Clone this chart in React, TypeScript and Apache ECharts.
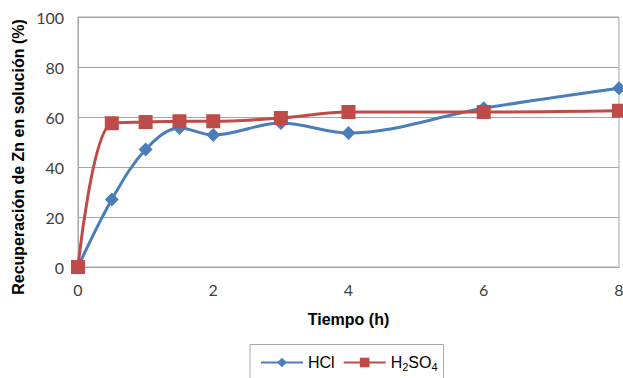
import React, { useEffect, useRef } from "react";
import * as echarts from "echarts";

const timeH = [0, 0.5, 1, 1.5, 2, 3, 4, 6, 8];
const hclValues = [0, 27, 47, 55.6, 52.8, 57.6, 53.6, 63.5, 71.5];
const h2so4Values = [0, 57.5, 58, 58.3, 58.3, 59.6, 62, 62, 62.5];
const seriesNames = ["HCl", "H2SO4"];
const xTitle = "Tiempo (h)";
const yTitle = "Recuperación de Zn en solución (%)";

export default function App() {
  const ref = useRef<HTMLDivElement>(null);
  useEffect(() => {
    if (!ref.current) return;
    const chart = echarts.init(ref.current, undefined, { renderer: "svg" });
    const gray = "#a6a6a6";
    chart.setOption({
      animation: false,
      backgroundColor: "#ffffff",
      grid: {
        left: 78,
        right: 4,
        top: 17,
        bottom: 111,
        show: true,
        borderColor: gray,
        borderWidth: 1,
        outerBoundsMode: "none",
        containLabel: false,
      },
      xAxis: {
        type: "value",
        min: 0,
        max: 8,
        interval: 2,
        name: xTitle,
        nameLocation: "middle",
        nameGap: 44,
        nameTextStyle: { fontFamily: "Liberation Sans", fontWeight: "bold", fontSize: 16, color: "#000" },
        axisLine: { show: true, lineStyle: { color: gray } },
        axisTick: { show: false },
        splitLine: { show: false },
        axisLabel: { fontFamily: "Lato", fontSize: 16, color: "#404040", margin: 14 },
      },
      yAxis: {
        type: "value",
        min: 0,
        max: 100,
        interval: 20,
        axisLine: { show: true, lineStyle: { color: gray } },
        axisTick: { show: false },
        splitLine: { show: true, lineStyle: { color: gray } },
        axisLabel: { fontFamily: "Lato", fontSize: 16, color: "#404040", margin: 14 },
      },
      graphic: [
        {
          type: "text",
          x: 18,
          y: 157,
          rotation: Math.PI / 2,
          style: {
            text: yTitle,
            fontFamily: "Liberation Sans",
            fontWeight: "bold",
            fontSize: 16,
            fill: "#000",
            align: "center",
            verticalAlign: "middle",
          },
        },
      ],
      legend: {
        bottom: -8,
        left: 250,
        borderColor: gray,
        borderWidth: 1,
        padding: [10, 6, 14, 10],
        itemWidth: 42,
        itemHeight: 12,
        itemGap: 8,
        data: seriesNames,
        formatter: (name: string) =>
          name === "H2SO4" ? "{a|H}{s|2}{a|SO}{s|4}" : "{a|" + name + "}",
        textStyle: {
          rich: {
            a: { fontFamily: "Liberation Sans", fontSize: 16, color: "#000" },
            s: { fontFamily: "Liberation Sans", fontSize: 11, color: "#000", padding: [8, 0, 0, 0] },
          },
        },
      },
      series: [
        {
          name: seriesNames[0],
          type: "line",
          smooth: 0.35,
          data: timeH.map((t, i) => [t, hclValues[i]]),
          symbol: "diamond",
          symbolSize: 14,
          lineStyle: { color: "#4a7ebb", width: 3 },
          itemStyle: { color: "#4a7ebb" },
        },
        {
          name: seriesNames[1],
          type: "line",
          smooth: 0.35,
          data: timeH.map((t, i) => [t, h2so4Values[i]]),
          symbol: "rect",
          symbolSize: 14,
          lineStyle: { color: "#be4b48", width: 3 },
          itemStyle: { color: "#be4b48" },
        },
      ],
    });
    return () => chart.dispose();
  }, []);
  return <div ref={ref} style={{ width: 623, height: 378, position: "absolute", left: 0, top: 0 }} />;
}
